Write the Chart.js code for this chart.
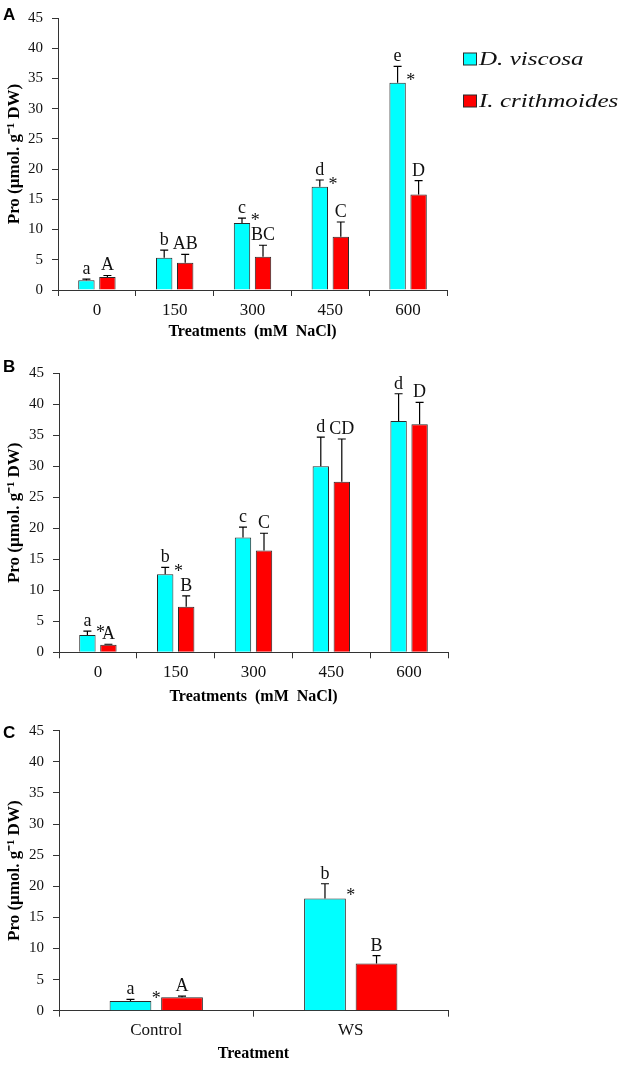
<!DOCTYPE html>
<html><head><meta charset="utf-8">
<script src="https://cdn.jsdelivr.net/npm/chart.js@4.4.1/dist/chart.umd.min.js"></script>
<style>
html,body{margin:0;padding:0;background:#fff}
body{width:630px;height:1065px;position:relative;overflow:hidden}
canvas{position:absolute;left:0}
</style></head><body>
<canvas id="cA" width="630" height="345" style="top:0px"></canvas>
<canvas id="cB" width="630" height="365" style="top:345px"></canvas>
<canvas id="cC" width="630" height="355" style="top:710px"></canvas>
<script>
// ---------- data ----------
const seriesNames = ['D. viscosa', 'I. crithmoides'];
const yTicksMax = 45, yTickStep = 5;

const catsA = ['0', '150', '300', '450', '600'];
const dvA = [1.6, 5.35, 11.1, 17.1, 34.3];
const dvErrA = [0.2, 1.25, 0.8, 1.1, 2.7];
const icA = [2.15, 4.5, 5.5, 8.8, 15.8];
const icErrA = [0.25, 1.4, 1.9, 2.45, 2.3];
const dvLetA = ['a', 'b', 'c', 'd', 'e'];
const icLetA = ['A', 'AB', 'BC', 'C', 'D'];
const starA = [false, false, true, true, true];

const catsB = ['0', '150', '300', '450', '600'];
const dvB = [2.8, 12.6, 18.5, 30.0, 37.3];
const dvErrB = [0.6, 1.1, 1.7, 4.7, 4.4];
const icB = [1.2, 7.35, 16.4, 27.5, 36.8];
const icErrB = [0.1, 1.75, 2.8, 6.9, 3.5];
const dvLetB = ['a', 'b', 'c', 'd', 'd'];
const icLetB = ['A', 'B', 'C', 'CD', 'D'];
const starB = [true, true, false, false, false];

const catsC = ['Control', 'WS'];
const dvC = [1.56, 18.05];
const dvErrC = [0.25, 2.35];
const icC = [2.15, 7.6];
const icErrC = [0.2, 1.25];
const dvLetC = ['a', 'b'];
const icLetC = ['A', 'B'];
const starC = [true, true];

// ---------- style ----------
const CYAN = '#00FFFF', RED = '#FF0000', EDGE = '#2a2a2a', INK = '#111';
const SERIF = '"Liberation Serif", "Times New Roman", serif';

const annotPlugin = {
  id: 'annot',
  afterDatasetsDraw(chart, args, o) {
    const ctx = chart.ctx, y = chart.scales.y;
    const errs = [o.dvErr, o.icErr], lets = [o.dvLet, o.icLet];
    ctx.save();
    ctx.strokeStyle = '#000'; ctx.lineWidth = 1.2;
    ctx.fillStyle = INK;
    ctx.font = '18px ' + SERIF;
    ctx.textAlign = 'center'; ctx.textBaseline = 'alphabetic';
    chart.data.datasets.forEach((ds, di) => {
      const meta = chart.getDatasetMeta(di);
      meta.data.forEach((bar, i) => {
        const v = ds.data[i], e = errs[di][i];
        const top = y.getPixelForValue(v + e);
        const cap = 4;
        ctx.beginPath();
        ctx.moveTo(bar.x, bar.y); ctx.lineTo(bar.x, top);
        ctx.moveTo(bar.x - cap, top); ctx.lineTo(bar.x + cap, top);
        ctx.stroke();
        ctx.fillText(lets[di][i], bar.x, top - 5);
        if (di === 0 && o.star[i]) {
          const right = bar.x + bar.width / 2;
          ctx.fillText('*', right + 5, bar.y + 3);
        }
      });
    });
    // panel letter
    ctx.textAlign = 'left';
    ctx.font = 'bold 17px "Liberation Sans", Arial, sans-serif';
    ctx.fillStyle = '#000';
    ctx.fillText(o.panel, 3, o.panelY);
    // legend
    if (o.legend) {
      const items = [[CYAN, seriesNames[0], 53], [RED, seriesNames[1], 95]];
      items.forEach(([c, t, yy]) => {
        ctx.fillStyle = c; ctx.strokeStyle = EDGE; ctx.lineWidth = 1;
        ctx.fillRect(463.5, yy, 13, 12); ctx.strokeRect(463.5, yy, 13, 12);
        ctx.save();
        ctx.fillStyle = INK;
        ctx.font = 'italic 19px ' + SERIF;
        ctx.translate(479, yy + 12);
        ctx.scale(1.32, 1);
        ctx.fillText(t, 0, 0);
        ctx.restore();
      });
    }
    ctx.restore();
  }
};

function makeChart(id, cats, dv, icv, cfg) {
  return new Chart(document.getElementById(id), {
    type: 'bar',
    data: {
      labels: cats,
      datasets: [
        { label: seriesNames[0], data: dv, backgroundColor: CYAN, borderColor: EDGE, borderWidth: 1,
          categoryPercentage: cfg.catPct, barPercentage: cfg.barPct },
        { label: seriesNames[1], data: icv, backgroundColor: RED, borderColor: EDGE, borderWidth: 1,
          categoryPercentage: cfg.catPct, barPercentage: cfg.barPct }
      ]
    },
    options: {
      responsive: false, animation: false, devicePixelRatio: 1,
      layout: { padding: { left: 0, right: cfg.right, top: cfg.top, bottom: 0 } },
      plugins: {
        legend: { display: false }, tooltip: { enabled: false },
        annot: cfg.annot
      },
      scales: {
        x: {
          grid: { display: true, drawOnChartArea: false, drawTicks: true, tickLength: 6, color: '#333', offset: true },
          border: { display: true, color: '#333', width: 1 },
          ticks: { color: INK, font: { family: SERIF, size: 17 }, padding: 4 },
          title: { display: true, text: cfg.xTitle, color: '#000',
            font: { family: SERIF, size: 16, weight: 'bold' }, padding: { top: 0, bottom: cfg.titleBottom } },
          afterFit: s => { s.height = cfg.xH; }
        },
        y: {
          min: 0, max: yTicksMax,
          grid: { display: true, drawOnChartArea: false, drawTicks: true, tickLength: 6, color: '#333' },
          border: { display: true, color: '#333', width: 1 },
          ticks: { stepSize: yTickStep, color: INK, font: { family: SERIF, size: 15 }, padding: 9 },
          title: { display: true, text: 'Pro (µmol. g⁻¹ DW)', color: '#000',
            font: { family: SERIF, size: 17, weight: 'bold' }, padding: { top: 4, bottom: 0 } },
          afterFit: s => { s.width = cfg.yW; }
        }
      }
    },
    plugins: [annotPlugin]
  });
}

makeChart('cA', catsA, dvA, icA, {
  catPct: 0.54, barPct: 0.78, right: 183, top: 10, xH: 55, yW: 58, titleBottom: 4,
  xTitle: 'Treatments  (mM  NaCl)',
  annot: { dvErr: dvErrA, icErr: icErrA, dvLet: dvLetA, icLet: icLetA, star: starA, panel: 'A', panelY: 20, legend: true }
});
makeChart('cB', catsB, dvB, icB, {
  catPct: 0.54, barPct: 0.78, right: 182, top: 28.3, xH: 57.7, yW: 59, titleBottom: 4,
  xTitle: 'Treatments  (mM  NaCl)',
  annot: { dvErr: dvErrB, icErr: icErrB, dvLet: dvLetB, icLet: icLetB, star: starB, panel: 'B', panelY: 27, legend: false }
});
makeChart('cC', catsC, dvC, icC, {
  catPct: 0.53, barPct: 0.81, right: 182, top: 20.7, xH: 54.3, yW: 59, titleBottom: 2,
  xTitle: 'Treatment',
  annot: { dvErr: dvErrC, icErr: icErrC, dvLet: dvLetC, icLet: icLetC, star: starC, panel: 'C', panelY: 28, legend: false }
});
</script>
</body></html>
